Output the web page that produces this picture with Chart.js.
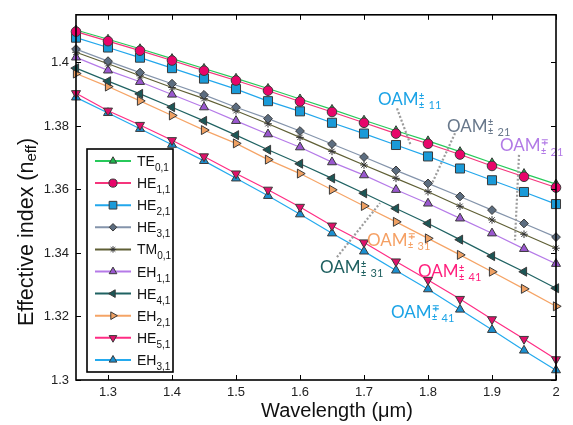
<!DOCTYPE html>
<html>
<head>
<meta charset="utf-8">
<script src="https://cdn.jsdelivr.net/npm/chart.js@4.4.0/dist/chart.umd.min.js"></script>
<style>
  html, body { margin: 0; padding: 0; background: #fff; }
  #wrap { width: 573px; height: 425px; }
</style>
</head>
<body>
<div id="wrap"><canvas id="modeChart" width="573" height="425"></canvas></div>
<script>
// wavelength samples (um)
const wavelengths = [1.25, 1.30, 1.35, 1.40, 1.45, 1.50, 1.55, 1.60, 1.65, 1.70, 1.75, 1.80, 1.85, 1.90, 1.95, 2.00];

// effective index per mode
const te01 = [1.4102, 1.4073, 1.4043, 1.4012, 1.3981, 1.3950, 1.3918, 1.3885, 1.3852, 1.3818, 1.3785, 1.3753, 1.3719, 1.3684, 1.3650, 1.3617];
const he11 = [1.4097, 1.4067, 1.4037, 1.4006, 1.3974, 1.3943, 1.3911, 1.3877, 1.3844, 1.3810, 1.3776, 1.3744, 1.3710, 1.3674, 1.3640, 1.3606];
const he21 = [1.4078, 1.4047, 1.4015, 1.3982, 1.3949, 1.3916, 1.3878, 1.3846, 1.3810, 1.3776, 1.3740, 1.3704, 1.3666, 1.3629, 1.3592, 1.3554];
const he31 = [1.4042, 1.4004, 1.3968, 1.3933, 1.3898, 1.3859, 1.3823, 1.3784, 1.3743, 1.3702, 1.3660, 1.3619, 1.3578, 1.3535, 1.3493, 1.3450];
const tm01 = [1.4032, 1.3996, 1.3958, 1.3921, 1.3886, 1.3848, 1.3807, 1.3764, 1.3720, 1.3677, 1.3635, 1.3593, 1.3547, 1.3504, 1.3459, 1.3415];
const eh11 = [1.4016, 1.3975, 1.3939, 1.3899, 1.3859, 1.3816, 1.3774, 1.3733, 1.3686, 1.3645, 1.3599, 1.3556, 1.3509, 1.3462, 1.3413, 1.3366];
const he41 = [1.3982, 1.3941, 1.3901, 1.3859, 1.3816, 1.3771, 1.3725, 1.3681, 1.3635, 1.3588, 1.3540, 1.3493, 1.3442, 1.3390, 1.3341, 1.3289];
const eh21 = [1.3965, 1.3924, 1.3879, 1.3833, 1.3787, 1.3745, 1.3694, 1.3650, 1.3599, 1.3548, 1.3498, 1.3446, 1.3394, 1.3341, 1.3287, 1.3232];
const he51 = [1.3903, 1.3848, 1.3803, 1.3755, 1.3704, 1.3650, 1.3599, 1.3545, 1.3486, 1.3433, 1.3373, 1.3315, 1.3255, 1.3191, 1.3129, 1.3065];
const eh31 = [1.3890, 1.3841, 1.3791, 1.3741, 1.3690, 1.3635, 1.3580, 1.3522, 1.3462, 1.3405, 1.3345, 1.3286, 1.3222, 1.3158, 1.3093, 1.3031];

const xTicks = [1.3, 1.4, 1.5, 1.6, 1.7, 1.8, 1.9, 2.0];
const xTickLabels = ['1.3', '1.4', '1.5', '1.6', '1.7', '1.8', '1.9', '2'];
const yTicks = [1.30, 1.32, 1.34, 1.36, 1.38, 1.40];
const yTickLabels = ['1.3', '1.32', '1.34', '1.36', '1.38', '1.4'];

const FONT = '"Liberation Sans", Arial, sans-serif';

// mode name, subscript, values, line colour, marker fill, marker, rotation, radius
const modes = [
  ['TE', '0,1', te01, '#27c95a', '#1fb84e', 'triangle', 0, 5],
  ['HE', '1,1', he11, '#f5357c', '#e8056a', 'circle', 0, 4.8],
  ['HE', '2,1', he21, '#22a7ec', '#1a9ad8', 'rect', 0, 6.4],
  ['HE', '3,1', he31, '#8494ab', '#5c6d80', 'rectRot', 0, 4.4],
  ['TM', '0,1', tm01, '#5f5f35', '#333333', 'star', 0, 3.8],
  ['EH', '1,1', eh11, '#b57ae8', '#9a57cf', 'triangle', 0, 5.2],
  ['HE', '4,1', he41, '#1f6262', '#1c5656', 'triangle', -90, 5.2],
  ['EH', '2,1', eh21, '#f5a466', '#efa062', 'triangle', 90, 5.2],
  ['HE', '5,1', he51, '#ff2c84', '#e0106a', 'triangle', 180, 5.2],
  ['EH', '3,1', eh31, '#24aaee', '#1a8fd0', 'triangle', 0, 5.2]
];

const datasets = modes.map((m, i) => ({
  label: m[0] + m[1],
  mode: m[0], sub: m[1],
  data: wavelengths.map((w, j) => ({ x: w, y: m[2][j] })),
  borderColor: m[3],
  borderWidth: 1.2,
  pointBackgroundColor: m[4],
  pointBorderColor: m[5] === 'star' ? '#333' : '#3a3a3a',
  pointBorderWidth: 1,
  pointStyle: m[5],
  pointRotation: m[6],
  pointRadius: m[7],
  tension: 0,
  clip: false,
  order: i === 0 ? 1 : 0
}));

// OAM annotations: [sup sign, index, colour, lambda, n (left edge / middle)]
const oamLabels = [
  ['±', '11', '#1ba3e6', 1.7219, 1.3882],
  ['±', '21', '#68788b', 1.8297, 1.3799],
  ['∓', '21', '#b27ae6', 1.9125, 1.3737],
  ['∓', '31', '#f5a064', 1.7047, 1.3440],
  ['±', '31', '#1f6060', 1.6313, 1.3353],
  ['±', '41', '#ff1f7d', 1.7844, 1.3341],
  ['∓', '41', '#1ba3e6', 1.7422, 1.3214]
];
// dotted leaders: [lambda1, n1, lambda2, n2]
const leaders = [
  [1.7516, 1.3855, 1.7734, 1.3737],
  [1.8422, 1.3777, 1.8063, 1.3619],
  [1.9422, 1.3709, 1.9359, 1.3440],
  [1.6578, 1.3387, 1.7250, 1.3557]
];

const decor = {
  id: 'decor',
  afterDraw(chart) {
    const ctx = chart.ctx;
    const xs = chart.scales.x, ys = chart.scales.y;
    const a = chart.chartArea;
    ctx.save();

    // leaders
    ctx.strokeStyle = '#9c9c9c';
    ctx.lineWidth = 2.2;
    ctx.setLineDash([2, 2]);
    leaders.forEach(l => {
      ctx.beginPath();
      ctx.moveTo(xs.getPixelForValue(l[0]), ys.getPixelForValue(l[1]));
      ctx.lineTo(xs.getPixelForValue(l[2]), ys.getPixelForValue(l[3]));
      ctx.stroke();
    });
    ctx.setLineDash([]);

    // OAM labels
    ctx.textBaseline = 'middle';
    ctx.textAlign = 'left';
    oamLabels.forEach(o => {
      const x = xs.getPixelForValue(o[3]), y = ys.getPixelForValue(o[4]);
      ctx.fillStyle = o[2];
      ctx.font = '17px Lato, "Open Sans", sans-serif';
      ctx.fillText('OAM', x, y);
      const w = ctx.measureText('OAM').width;
      ctx.font = 'bold 9px Lato, sans-serif';
      ctx.fillText(o[0], x + w + 0.5, y - 4);
      ctx.fillText('±', x + w + 0.5, y + 5);
      ctx.font = '11px Lato, sans-serif';
      ctx.fillText(o[1], x + w + 10, y + 6);
    });

    // frame
    ctx.strokeStyle = '#000';
    ctx.lineWidth = 1.6;
    ctx.strokeRect(a.left, a.top, a.right - a.left, a.bottom - a.top);

    // inward ticks on all sides
    ctx.lineWidth = 1;
    ctx.beginPath();
    xTicks.forEach(v => {
      const px = Math.round(xs.getPixelForValue(v)) + 0.5;
      ctx.moveTo(px, a.bottom); ctx.lineTo(px, a.bottom - 5);
      ctx.moveTo(px, a.top); ctx.lineTo(px, a.top + 5);
    });
    yTicks.forEach(v => {
      const py = Math.round(ys.getPixelForValue(v)) + 0.5;
      ctx.moveTo(a.left, py); ctx.lineTo(a.left + 5, py);
      ctx.moveTo(a.right, py); ctx.lineTo(a.right - 5, py);
    });
    ctx.stroke();

    // legend
    const lx = 87, ly = 149, lw = 86, lh = 223, row = 22.1, first = 161;
    ctx.fillStyle = '#fff';
    ctx.fillRect(lx, ly, lw, lh);
    ctx.strokeStyle = '#000';
    ctx.lineWidth = 1.6;
    ctx.strokeRect(lx, ly, lw, lh);
    chart.data.datasets.forEach((d, i) => {
      const y = first + i * row;
      ctx.strokeStyle = d.borderColor;
      ctx.lineWidth = 2;
      ctx.beginPath();
      ctx.moveTo(95, y); ctx.lineTo(131, y);
      ctx.stroke();
      ctx.fillStyle = d.pointBackgroundColor;
      ctx.strokeStyle = d.pointBorderColor;
      ctx.lineWidth = 1;
      Chart.helpers.drawPoint(ctx, {
        pointStyle: d.pointStyle, rotation: d.pointRotation,
        radius: d.pointRadius * 0.85, borderWidth: 1
      }, 113, y);
      ctx.fillStyle = '#111';
      ctx.textBaseline = 'alphabetic';
      ctx.font = '14px ' + FONT;
      ctx.fillText(d.mode, 137, y + 5);
      const mw = ctx.measureText(d.mode).width;
      ctx.font = '10px ' + FONT;
      ctx.fillText(d.sub, 137 + mw, y + 10);
    });

    // axis titles
    ctx.fillStyle = '#111';
    ctx.textBaseline = 'middle';
    ctx.font = '20px ' + FONT;
    ctx.textAlign = 'left';
    ctx.fillText('Wavelength (\u03bcm)', 261, 411);

    ctx.translate(27, 232);
    ctx.rotate(-Math.PI / 2);
    const t1 = 'Effective index (n', t2 = 'eff', t3 = ')';
    ctx.font = '21.5px ' + FONT;
    const w1 = ctx.measureText(t1).width, w3 = ctx.measureText(t3).width;
    ctx.font = '15px ' + FONT;
    const w2 = ctx.measureText(t2).width;
    const sx = -(w1 + w2 + w3) / 2;
    ctx.font = '21.5px ' + FONT;
    ctx.fillText(t1, sx, 0);
    ctx.font = '15px ' + FONT;
    ctx.fillText(t2, sx + w1, 5);
    ctx.font = '21.5px ' + FONT;
    ctx.fillText(t3, sx + w1 + w2, 0);
    ctx.restore();
  }
};

new Chart(document.getElementById('modeChart').getContext('2d'), {
  type: 'line',
  data: { datasets: datasets },
  options: {
    responsive: false,
    animation: false,
    devicePixelRatio: 1,
    layout: { padding: { top: 8, right: 17, left: 0, bottom: 0 } },
    plugins: { legend: { display: false }, tooltip: { enabled: false } },
    scales: {
      x: {
        type: 'linear', min: 1.25, max: 2.0,
        afterBuildTicks: s => { s.ticks = xTicks.map(v => ({ value: v })); },
        afterFit: s => { s.height = 45; },
        ticks: {
          callback: (v, i) => xTickLabels[i],
          font: { family: FONT, size: 13 }, color: '#222', padding: 5, maxRotation: 0
        },
        grid: { display: false, drawTicks: false },
        border: { display: false }
      },
      y: {
        type: 'linear', min: 1.3, max: 1.415,
        afterBuildTicks: s => { s.ticks = yTicks.map(v => ({ value: v })); },
        afterFit: s => { s.width = 76; },
        ticks: {
          callback: (v, i) => yTickLabels[i],
          font: { family: FONT, size: 13 }, color: '#222', padding: 7
        },
        grid: { display: false, drawTicks: false },
        border: { display: false }
      }
    }
  },
  plugins: [decor]
});
</script>
</body>
</html>
